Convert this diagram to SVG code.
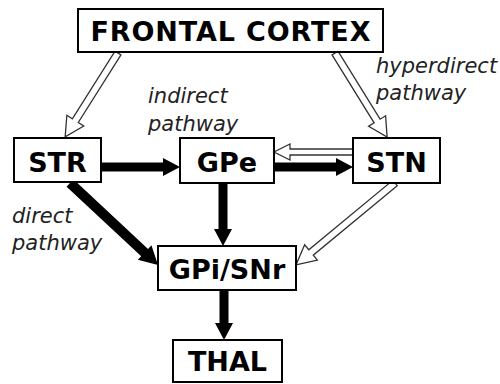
<svg xmlns="http://www.w3.org/2000/svg" width="500" height="384" viewBox="0 0 500 384">
  <style>
    .box { fill: #fff; stroke: #000; stroke-width: 2; }
    .lbl { font-family: "DejaVu Sans", Verdana, sans-serif; font-weight: bold; font-size: 27px; text-anchor: middle; fill: #000; }
    .note { font-family: "DejaVu Sans", Verdana, sans-serif; font-style: italic; font-size: 21px; fill: #222; }
    .hollow { fill: #fff; stroke: #333; stroke-width: 1.3; stroke-linejoin: miter; }
    .solid { fill: #000; stroke: none; }
  </style>
  <rect width="500" height="384" fill="#fff"/>

  <!-- connectors -->
  <g id="connectors">
    <!-- cortex to striatum (excitatory, hollow) -->
    <polygon class="hollow" transform="translate(118,53) rotate(122.25)" points="0,-3.5 80,-3.5 80,-10 99,0 80,10 80,3.5 0,3.5"/>
    <!-- cortex to STN, hyperdirect (hollow) -->
    <polygon class="hollow" transform="translate(335,53) rotate(58.24)" points="0,-3.5 80,-3.5 80,-10 99,0 80,10 80,3.5 0,3.5"/>
    <!-- STN to GPe (hollow) -->
    <polygon class="hollow" transform="translate(353,152) rotate(180)" points="0,-3 63,-3 63,-8 79,0 63,8 63,3 0,3"/>
    <!-- STN to GPi/SNr (hollow) -->
    <polygon class="hollow" transform="translate(395,183) rotate(140.4)" points="0,-3.5 109,-3.5 109,-10 128.5,0 109,10 109,3.5 0,3.5"/>
    <!-- STR to GPe (inhibitory, solid) -->
    <polygon class="solid" transform="translate(101,167) rotate(0)" points="0,-4.5 62,-4.5 62,-9 79,0 62,9 62,4.5 0,4.5"/>
    <!-- GPe to STN (solid) -->
    <polygon class="solid" transform="translate(274,167) rotate(0)" points="0,-4.5 62,-4.5 62,-9 79,0 62,9 62,4.5 0,4.5"/>
    <!-- GPe to GPi/SNr (solid) -->
    <polygon class="solid" transform="translate(223,183) rotate(90)" points="0,-4.5 46,-4.5 46,-9 63,0 46,9 46,4.5 0,4.5"/>
    <!-- STR to GPi/SNr, direct (solid) -->
    <polygon class="solid" transform="translate(70,183) rotate(42.98)" points="0,-5 102,-5 102,-10 120.3,0 102,10 102,5 0,5"/>
    <!-- GPi/SNr to THAL (solid) -->
    <polygon class="solid" transform="translate(224,290) rotate(90)" points="0,-4.5 33,-4.5 33,-9 50,0 33,9 33,4.5 0,4.5"/>
  </g>

  <!-- nodes -->
  <g id="frontal-cortex">
    <rect class="box" x="78" y="9" width="305" height="43"/>
    <text class="lbl" x="230.5" y="41" font-size="26" textLength="280" lengthAdjust="spacing">FRONTAL CORTEX</text>
  </g>
  <g id="str">
    <rect class="box" x="14" y="138" width="87" height="44"/>
    <text class="lbl" x="57.5" y="172">STR</text>
  </g>
  <g id="gpe">
    <rect class="box" x="180" y="138" width="94" height="45"/>
    <text class="lbl" x="227" y="172">GPe</text>
  </g>
  <g id="stn">
    <rect class="box" x="353" y="138" width="87" height="45"/>
    <text class="lbl" x="396.5" y="172">STN</text>
  </g>
  <g id="gpi-snr">
    <rect class="box" x="158" y="246" width="138" height="44"/>
    <text class="lbl" x="227" y="279">GPi/SNr</text>
  </g>
  <g id="thal">
    <rect class="box" x="173" y="340" width="109" height="42"/>
    <text class="lbl" x="227.5" y="371">THAL</text>
  </g>

  <!-- pathway labels -->
  <g id="labels">
    <text class="note" x="148" y="103">indirect</text>
    <text class="note" x="148" y="131">pathway</text>
    <text class="note" x="376" y="73">hyperdirect</text>
    <text class="note" x="376" y="100">pathway</text>
    <text class="note" x="12" y="223">direct</text>
    <text class="note" x="12" y="250">pathway</text>
  </g>
</svg>
